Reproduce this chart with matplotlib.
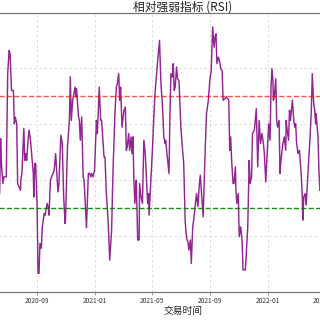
import matplotlib
matplotlib.use("Agg")
import matplotlib.pyplot as plt
import matplotlib.dates as mdates
import pandas as pd

plt.rcParams['font.family'] = ['Noto Sans CJK SC', 'DejaVu Sans']
plt.rcParams['axes.unicode_minus'] = False

title = "相对强弱指标 (RSI)"
xlabel = "交易时间"
ylabel = "RSI"
overbought = 70
oversold = 30
y_ticks = [0, 20, 40, 60, 80, 100]

dates = [
    "2020-06-14", "2020-06-16", "2020-06-18", "2020-06-21", "2020-06-23", "2020-06-28", "2020-07-01", "2020-07-04",
    "2020-07-06", "2020-07-09", "2020-07-13", "2020-07-15", "2020-07-17", "2020-07-20", "2020-07-22", "2020-07-25",
    "2020-07-28", "2020-07-29", "2020-07-31", "2020-08-04", "2020-08-06", "2020-08-08", "2020-08-10", "2020-08-13",
    "2020-08-15", "2020-08-18", "2020-08-21", "2020-08-24", "2020-08-25", "2020-08-27", "2020-08-29", "2020-09-01",
    "2020-09-03", "2020-09-05", "2020-09-07", "2020-09-10", "2020-09-12", "2020-09-16", "2020-09-18", "2020-09-22",
    "2020-09-25", "2020-09-26", "2020-09-29", "2020-10-03", "2020-10-07", "2020-10-10", "2020-10-13", "2020-10-15",
    "2020-10-17", "2020-10-21", "2020-10-24", "2020-10-27", "2020-10-30", "2020-10-31", "2020-11-04", "2020-11-08",
    "2020-11-10", "2020-11-12", "2020-11-15", "2020-11-17", "2020-11-20", "2020-11-22", "2020-11-23", "2020-11-27",
    "2020-11-29", "2020-12-01", "2020-12-04", "2020-12-07", "2020-12-09", "2020-12-12", "2020-12-14", "2020-12-16",
    "2020-12-18", "2020-12-21", "2020-12-23", "2020-12-25", "2020-12-28", "2020-12-31", "2021-01-04", "2021-01-06",
    "2021-01-10", "2021-01-13", "2021-01-15", "2021-01-20", "2021-01-22", "2021-01-25", "2021-01-29", "2021-02-01",
    "2021-02-05", "2021-02-08", "2021-02-12", "2021-02-15", "2021-02-17", "2021-02-20", "2021-02-22", "2021-02-24",
    "2021-02-27", "2021-03-03", "2021-03-06", "2021-03-08", "2021-03-10", "2021-03-13", "2021-03-15", "2021-03-18",
    "2021-03-20", "2021-03-22", "2021-03-24", "2021-03-26", "2021-03-28", "2021-03-29", "2021-04-01", "2021-04-04",
    "2021-04-05", "2021-04-08", "2021-04-11", "2021-04-14", "2021-04-17", "2021-04-22", "2021-04-24", "2021-04-25",
    "2021-04-28", "2021-05-02", "2021-05-06", "2021-05-09", "2021-05-12", "2021-05-17", "2021-05-20", "2021-05-23",
    "2021-05-26", "2021-05-29", "2021-05-30", "2021-06-01", "2021-06-06", "2021-06-08", "2021-06-10", "2021-06-13",
    "2021-06-15", "2021-06-17", "2021-06-19", "2021-06-22", "2021-06-24", "2021-06-27", "2021-07-01", "2021-07-04",
    "2021-07-07", "2021-07-10", "2021-07-12", "2021-07-14", "2021-07-16", "2021-07-18", "2021-07-21", "2021-07-23",
    "2021-07-26", "2021-07-28", "2021-07-31", "2021-08-03", "2021-08-06", "2021-08-09", "2021-08-11", "2021-08-14",
    "2021-08-17", "2021-08-19", "2021-08-21", "2021-08-24", "2021-08-28", "2021-08-31", "2021-09-03", "2021-09-05",
    "2021-09-06", "2021-09-09", "2021-09-11", "2021-09-13", "2021-09-15", "2021-09-18", "2021-09-21", "2021-09-23",
    "2021-09-26", "2021-09-28", "2021-10-02", "2021-10-05", "2021-10-10", "2021-10-12", "2021-10-14", "2021-10-16",
    "2021-10-19", "2021-10-21", "2021-10-24", "2021-10-25", "2021-10-27", "2021-10-30", "2021-11-01", "2021-11-04",
    "2021-11-07", "2021-11-09", "2021-11-14", "2021-11-16", "2021-11-19", "2021-11-22", "2021-11-24", "2021-11-27",
    "2021-11-29", "2021-12-03", "2021-12-07", "2021-12-10", "2021-12-13", "2021-12-16", "2021-12-19", "2021-12-22",
    "2021-12-24", "2021-12-27", "2021-12-31", "2022-01-02", "2022-01-05", "2022-01-07", "2022-01-09", "2022-01-11",
    "2022-01-12", "2022-01-14", "2022-01-17", "2022-01-19", "2022-01-21", "2022-01-24", "2022-01-26", "2022-01-28",
    "2022-02-01", "2022-02-04", "2022-02-07", "2022-02-08", "2022-02-10", "2022-02-13", "2022-02-15", "2022-02-17",
    "2022-02-19", "2022-02-21", "2022-02-24", "2022-02-26", "2022-02-28", "2022-03-02", "2022-03-05", "2022-03-08",
    "2022-03-12", "2022-03-14", "2022-03-15", "2022-03-17", "2022-03-20", "2022-03-22", "2022-03-24", "2022-03-27",
    "2022-03-30", "2022-04-02", "2022-04-04", "2022-04-07", "2022-04-09", "2022-04-11", "2022-04-12", "2022-04-16",
    "2022-04-18", "2022-04-20",
]

rsi = [
    35.2, 54.9, 45.4, 38.8, 41.2, 41.2, 78.1, 86.4,
    85.2, 72.1, 72.1, 60.2, 62.6, 60.2, 38.8, 37.6,
    36.4, 40.6, 42.4, 58.5, 47.1, 49.5, 47.1, 54.3,
    57.9, 54.3, 48.3, 42.4, 34.0, 46.0, 46.0, 30.5,
    6.7, 6.7, 17.4, 15.6, 23.3, 28.1, 27.5, 31.7,
    29.9, 27.5, 40.0, 41.8, 43.6, 49.5, 41.2, 35.8,
    38.8, 56.1, 53.1, 34.0, 24.5, 26.9, 51.9, 61.4,
    77.0, 61.4, 68.6, 70.4, 73.3, 69.8, 72.7, 63.2,
    61.4, 54.3, 62.6, 41.2, 40.0, 29.3, 23.0, 32.9,
    42.4, 42.4, 41.2, 42.4, 41.2, 43.6, 61.4, 56.7,
    73.3, 61.4, 61.4, 48.3, 48.3, 35.2, 24.5, 11.4,
    22.1, 43.6, 63.8, 73.3, 74.5, 78.1, 68.6, 73.3,
    59.0, 65.0, 66.2, 50.7, 51.9, 56.7, 50.7, 55.5,
    49.5, 55.5, 40.0, 31.7, 36.4, 40.0, 18.6, 18.6,
    38.8, 34.0, 31.7, 54.3, 49.5, 31.7, 35.2, 27.5,
    37.6, 50.7, 66.2, 74.5, 80.5, 90.0, 74.5, 67.4,
    55.5, 53.1, 54.3, 50.7, 42.4, 63.8, 78.1, 76.9,
    81.7, 72.1, 73.3, 80.5, 76.3, 75.7, 59.0, 51.9,
    46.0, 25.7, 21.0, 18.6, 18.0, 15.0, 18.6, 10.2,
    23.3, 25.7, 30.5, 35.2, 30.5, 38.8, 41.8, 34.0,
    26.9, 38.8, 49.5, 63.8, 68.6, 75.7, 79.3, 90.0,
    94.8, 87.6, 91.2, 92.4, 81.7, 84.0, 82.3, 79.9,
    79.3, 68.6, 69.2, 69.8, 68.6, 50.7, 55.5, 47.1,
    38.8, 38.8, 44.8, 36.4, 31.7, 35.2, 19.8, 23.3,
    18.6, 7.9, 7.9, 13.8, 23.3, 47.1, 38.8, 41.2,
    56.7, 57.9, 65.6, 44.8, 61.4, 53.1, 56.7, 53.1,
    49.5, 39.4, 53.1, 60.2, 54.3, 73.3, 79.9, 75.7,
    68.6, 69.8, 76.3, 61.4, 59.0, 61.4, 42.4, 47.1,
    53.1, 55.5, 50.7, 61.4, 57.9, 54.3, 65.0, 61.4,
    65.0, 68.6, 61.4, 59.0, 60.2, 53.1, 49.5, 50.7,
    41.2, 34.0, 25.7, 34.0, 35.2, 31.1, 36.4, 46.0,
    54.3, 65.0, 78.1, 67.4, 65.0, 60.2, 63.8, 55.5,
    43.6, 36.4,
]

x = pd.to_datetime(dates)

fig = plt.figure(figsize=(3.2, 3.2), dpi=100)
# the chart is a crop of a wider figure: the axes extend past the left/right edges
ax = fig.add_axes([-100 / 320, 28 / 320, 566 / 320, 279.5 / 320])

ax.plot(x, rsi, color='purple', lw=1.05, alpha=0.85)
ax.axhline(overbought, color='red', ls='--', lw=1.0, alpha=0.7)
ax.axhline(oversold, color='green', ls='--', lw=1.0, alpha=0.9)

ax.set_xlim(pd.Timestamp("2019-11-17"), pd.Timestamp("2023-02-22"))
ax.set_ylim(0, 100)
ax.set_yticks(y_ticks)

ax.xaxis.set_major_locator(mdates.MonthLocator(bymonth=[1, 5, 9]))
ax.xaxis.set_major_formatter(mdates.DateFormatter('%Y-%m'))
ax.tick_params(axis='x', labelsize=4.8, length=2.5, width=0.6, color='#888888', pad=1.0, labelcolor='#333333')
ax.tick_params(axis='y', labelsize=4.8)
ax.set_ylabel(ylabel, fontsize=7)

ax.grid(True, color='#cccccc', ls=(0, (3, 3)), lw=0.6, alpha=0.8)
for s in ax.spines.values():
    s.set_color('#777777')
    s.set_linewidth(0.9)

ax.set_title(title, fontsize=8.5, pad=0, y=1.018, va='center', color='#222222')
ax.set_xlabel(xlabel, fontsize=7, labelpad=0.5, color='#222222')

fig.savefig("out.png", dpi=100)
